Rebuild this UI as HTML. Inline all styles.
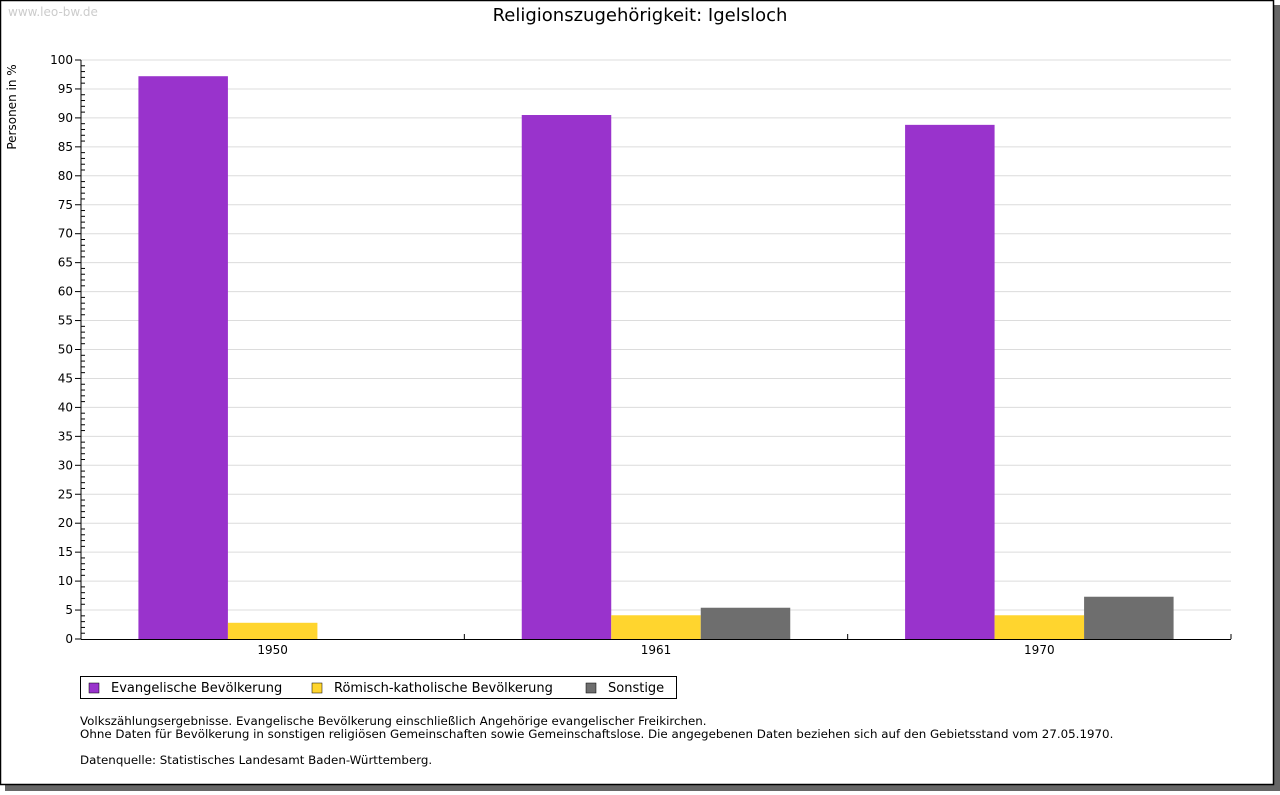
<!DOCTYPE html>
<html><head><meta charset="utf-8"><style>
body{margin:0;width:1280px;height:791px;background:#fff;overflow:hidden;font-family:"DejaVu Sans","Liberation Sans",sans-serif;}
</style></head><body>
<svg width="1280" height="791" xmlns="http://www.w3.org/2000/svg">
<rect x="5" y="5" width="1275" height="786" fill="#666"/>
<rect x="0.5" y="0.5" width="1273" height="784" fill="#fff" stroke="#000" stroke-width="1.5"/>
<text x="8" y="16" font-size="12" fill="#ccc">www.leo-bw.de</text>
<text x="640" y="21" font-size="18" text-anchor="middle" fill="#000">Religionszugehörigkeit: Igelsloch</text>
<text transform="translate(16,107) rotate(-90)" font-size="12" text-anchor="middle">Personen in %</text>
<g id="grid"></g><g id="bars"></g><g id="axes"></g>
<g>
<rect x="80.5" y="676.5" width="596" height="22" fill="#fff" stroke="#000"/>
<rect x="89" y="683" width="10" height="10" fill="#9933cc" stroke="#000" stroke-width="0.5"/>
<text x="111" y="692" font-size="13">Evangelische Bevölkerung</text>
<rect x="312" y="683" width="10" height="10" fill="#ffd52e" stroke="#000" stroke-width="0.5"/>
<text x="334" y="692" font-size="13">Römisch-katholische Bevölkerung</text>
<rect x="586" y="683" width="10" height="10" fill="#6e6e6e" stroke="#000" stroke-width="0.5"/>
<text x="608" y="692" font-size="13">Sonstige</text>
</g>
<g font-size="11.85">
<text x="80" y="725">Volkszählungsergebnisse. Evangelische Bevölkerung einschließlich Angehörige evangelischer Freikirchen.</text>
<text x="80" y="738">Ohne Daten für Bevölkerung in sonstigen religiösen Gemeinschaften sowie Gemeinschaftslose. Die angegebenen Daten beziehen sich auf den Gebietsstand vom 27.05.1970.</text>
<text x="80" y="764">Datenquelle: Statistisches Landesamt Baden-Württemberg.</text>
</g>
</svg>
<script>
const categories=["1950","1961","1970"];
const evangelisch=[97.2,90.5,88.8];
const katholisch=[2.8,4.1,4.1];
const sonstige=[0,5.4,7.3];
const yTicks=[0,5,10,15,20,25,30,35,40,45,50,55,60,65,70,75,80,85,90,95,100];
const NS="http://www.w3.org/2000/svg";
const L=81,R=1231,T=60,B=639;
const y=v=>B-(v/100)*(B-T);
const gw=(R-L)/categories.length;
function mk(tag,attrs,parent){const e=document.createElementNS(NS,tag);for(const k in attrs)e.setAttribute(k,attrs[k]);parent.appendChild(e);return e;}
const grid=document.getElementById('grid'),bars=document.getElementById('bars'),axes=document.getElementById('axes');
yTicks.forEach(t=>{
 if(t>0){const g=mk('line',{x1:L,x2:R,y1:y(t),y2:y(t),stroke:'#dcdcdc'},grid);
 
 }
 const tk=mk('line',{x1:L-6,x2:L,y1:y(t),y2:y(t),stroke:'#000'},axes);
 
 
 const lb=mk('text',{x:L-8,y:y(t)+4,'font-size':12,'text-anchor':'end'},axes);lb.textContent=t;
 
 
});
for(let v=1;v<100;v++){if(v%5)mk('line',{x1:L,x2:L+4,y1:y(v),y2:y(v),stroke:'#000'},axes);}
const series=[[evangelisch,'#9933cc','evangelisch'],[katholisch,'#ffd52e','katholisch'],[sonstige,'#6e6e6e','sonstige']];
const bw=89.5,pad=(gw-3*bw)/2;
categories.forEach((c,i)=>{
 const gx=L+i*gw;
 series.forEach((s,j)=>{
  const v=s[0][i];if(!v)return;
  const r=mk('rect',{x:gx+pad+j*bw,y:y(v),width:bw,height:B-y(v),fill:s[1]},bars);
  
  
 });
 const lb=mk('text',{x:gx+gw/2,y:B+15,'font-size':12,'text-anchor':'middle'},axes);lb.textContent=c;
 
 
 mk('line',{x1:gx+gw,x2:gx+gw,y1:B,y2:B-5,stroke:'#000'},axes);
});
const ya=mk('line',{x1:L,x2:L,y1:T,y2:B,stroke:'#000'},axes);


const xa=mk('line',{x1:L,x2:R,y1:B+0.5,y2:B+0.5,stroke:'#000'},axes);


</script>
</body></html>
